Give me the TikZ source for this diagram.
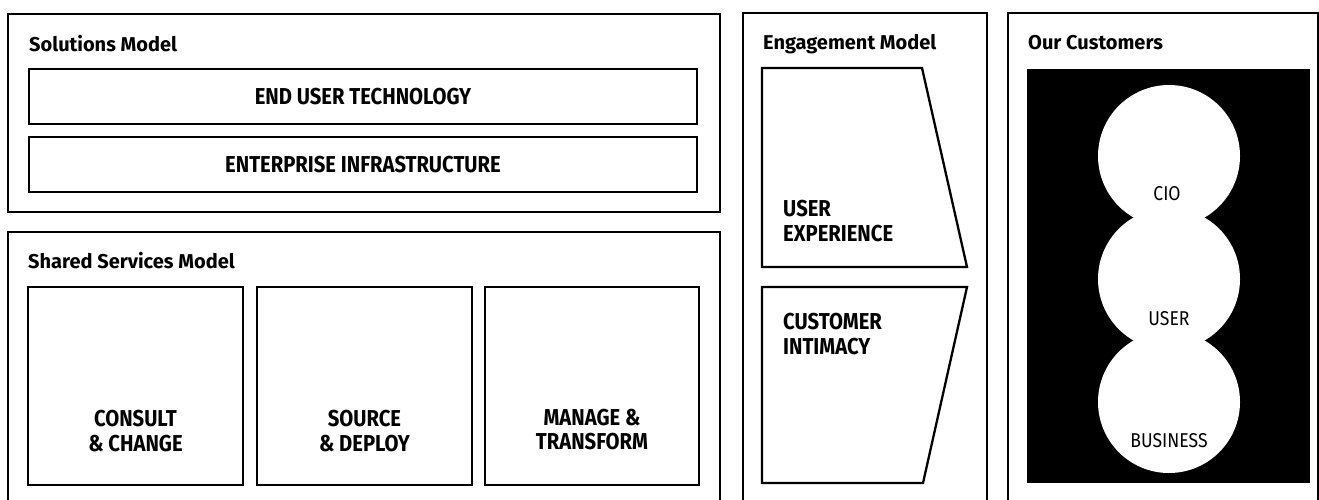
\documentclass[tikz,border=0pt]{standalone}
\usepackage{fontspec}
\setmainfont{Fira Sans}
\newfontfamily\condfont[FakeStretch=0.88]{Fira Sans}
\begin{document}
\begin{tikzpicture}[x=1pt,y=-1pt,
  panel/.style={draw, line width=1.3pt, inner sep=0pt, outer sep=0pt, anchor=north west},
  box/.style={draw, line width=2.3pt, inner sep=0pt, outer sep=0pt},
  ttl/.style={font=\fontsize{20}{22}\selectfont\bfseries, anchor=base west, inner sep=0pt},
  lbl/.style={font=\condfont\fontsize{23}{24.5}\selectfont\bfseries, inner sep=0pt},
  clbl/.style={font=\condfont\fontsize{20}{22}\selectfont, anchor=base, inner sep=0pt}]
\useasboundingbox (0,0) rectangle (1319,499);
\clip (0,0) rectangle (1319,499);
\fill[white] (0,0) rectangle (1319,499);

% outer panels
\node[panel, minimum width=712pt, minimum height=198pt] (sol) at (8,14) {};
\node[panel, minimum width=712pt, minimum height=280pt] (shs) at (8,232) {};
\node[panel, minimum width=244pt, minimum height=500pt] (eng) at (743,13) {};
\node[panel, minimum width=310pt, minimum height=500pt] (cus) at (1008,13) {};

% titles
\node[ttl] (tsol) at (29,51) {Solutions Model};
\node[ttl] (tshs) at (28,268) {Shared Services Model};
\node[ttl] (teng) at (763,49) {Engagement Model};
\node[ttl] (tcus) at (1028,49) {Our Customers};

% solutions model
\node[box, lbl, minimum width=668pt, minimum height=55pt] (eut) at (363,96.5) {END USER TECHNOLOGY};
\node[box, lbl, minimum width=668pt, minimum height=55pt] (ei) at (363,164.5) {ENTERPRISE INFRASTRUCTURE};

% shared services model
\node[box, minimum width=215pt, minimum height=198pt] (cc) at (135.5,386) {};
\node[box, minimum width=215pt, minimum height=198pt] (sd) at (364.5,386) {};
\node[box, minimum width=214pt, minimum height=198pt] (mt) at (592,386) {};
\node[lbl, align=center] (tcc) at (135.5,431) {CONSULT\\\& CHANGE};
\node[lbl, align=center] (tsd) at (364.5,431) {SOURCE\\\& DEPLOY};
\node[lbl, align=center] (tmt) at (592,429.5) {MANAGE \&\\TRANSFORM};

% engagement model
\draw[line width=2.3pt] (762,68) coordinate (ux1) -- (922,68) coordinate (ux2)
  -- (967,267) coordinate (ux3) -- (762,267) coordinate (ux4) -- cycle;
\draw[line width=2.3pt] (762,287) coordinate (ci1) -- (967,287) coordinate (ci2)
  -- (923,483) coordinate (ci3) -- (762,483) coordinate (ci4) -- cycle;
\node[lbl, align=left, anchor=north west] (tux) at (783,200) {USER\\EXPERIENCE};
\node[lbl, align=left, anchor=north west] (tci) at (783,313) {CUSTOMER\\INTIMACY};

% our customers
\node[fill=black, inner sep=0pt, outer sep=0pt, anchor=north west,
  minimum width=283pt, minimum height=414pt] (blk) at (1027,69) {};
\node[circle, fill=white, inner sep=0pt, minimum size=142pt] (c1) at (1169,156) {};
\node[circle, fill=white, inner sep=0pt, minimum size=142pt] (c2) at (1169,279) {};
\node[circle, fill=white, inner sep=0pt, minimum size=142pt] (c3) at (1169,402) {};
\node[clbl] (tc1) at (1167,200) {CIO};
\node[clbl] (tc2) at (1169,325) {USER};
\node[clbl] (tc3) at (1169,447) {BUSINESS};
\end{tikzpicture}
\end{document}
